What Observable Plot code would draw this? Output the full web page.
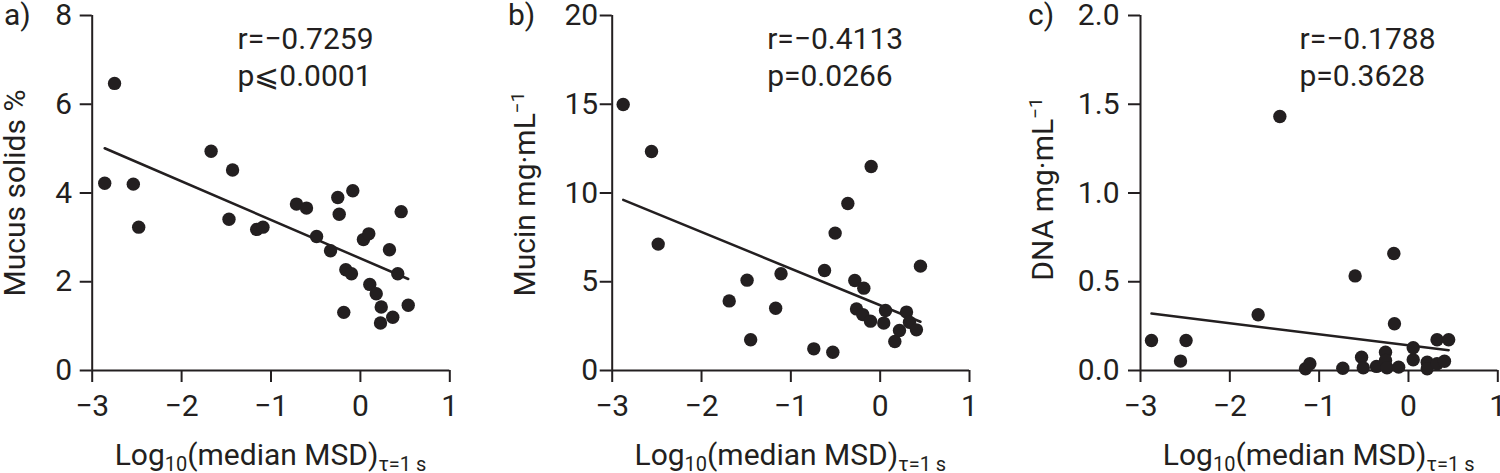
<!DOCTYPE html>
<html><head><meta charset="utf-8">
<script src="https://cdn.jsdelivr.net/npm/d3@7"></script>
<script src="https://cdn.jsdelivr.net/npm/@observablehq/plot@0.6"></script>
<style>
body{margin:0;background:#fff;}
#fig{position:relative;width:1500px;height:473px;overflow:hidden;font-family:Roboto,sans-serif;}
#fig svg{position:absolute;top:0;overflow:visible;}
</style></head><body><div id="fig"></div>
<script>
// ---- data ----
const xTickValues = [-3, -2, -1, 0, 1];
const aYTicks = [0, 2, 4, 6, 8];
const bYTicks = [0, 5, 10, 15, 20];
const cYTicks = [0, 0.5, 1.0, 1.5, 2.0];

const aX = [-2.86, -2.75, -2.54, -2.48, -1.67, -1.43, -1.47, -1.16, -1.09, -0.715, -0.603, -0.49, -0.334, -0.253, -0.237, -0.085, -0.163, -0.10, -0.186, 0.034, 0.094, 0.105, 0.177, 0.233, 0.225, 0.325, 0.362, 0.418, 0.456, 0.535];
const aY = [4.22, 6.47, 4.20, 3.23, 4.94, 4.52, 3.41, 3.18, 3.23, 3.75, 3.66, 3.02, 2.70, 3.90, 3.52, 4.05, 2.27, 2.18, 1.31, 2.95, 3.08, 1.94, 1.73, 1.43, 1.07, 2.72, 1.20, 2.18, 3.58, 1.47];

const bX = [-2.877, -2.56, -2.485, -1.69, -1.49, -1.45, -1.17, -1.11, -0.743, -0.623, -0.53, -0.504, -0.362, -0.284, -0.183, -0.265, -0.195, -0.108, -0.101, 0.04, 0.06, 0.164, 0.216, 0.295, 0.328, 0.406, 0.451];
const bY = [14.99, 12.34, 7.12, 3.92, 5.09, 1.73, 3.51, 5.45, 1.22, 5.63, 1.03, 7.74, 9.41, 5.07, 4.64, 3.47, 3.15, 2.78, 11.49, 2.67, 3.38, 1.63, 2.25, 3.29, 2.72, 2.29, 5.88];

const cX = [-2.877, -2.552, -2.49, -1.683, -1.44, -1.153, -1.104, -0.735, -0.597, -0.525, -0.506, -0.358, -0.257, -0.257, -0.24, -0.164, -0.157, -0.11, 0.053, 0.053, 0.21, 0.21, 0.32, 0.32, 0.403, 0.45];
const cY = [0.169, 0.053, 0.169, 0.314, 1.431, 0.01, 0.038, 0.013, 0.533, 0.075, 0.015, 0.023, 0.103, 0.056, 0.015, 0.659, 0.263, 0.019, 0.128, 0.06, 0.047, 0.01, 0.038, 0.173, 0.052, 0.173];

const panelLetters = ["a)", "b)", "c)"];
const yLabels = ["Mucus solids %", "Mucin mg·mL", "DNA mg·mL"];
const yLabelSups = ["", "−1", "−1"];
const rTexts = ["r=−0.7259", "r=−0.4113", "r=−0.1788"];
const pTexts = ["p⩽0.0001", "p=0.0266", "p=0.3628"];
const xLabelMain = ["Log", "(median MSD)"];
const xLabelSubs = ["10", "τ=1 s"];

// ---- layout / style ----
const ink = "#231f20";
const FS = 30;
const minusFmt = d => (d < 0 ? "−" + Math.abs(d) : String(d));
const panels = [
  {xs: aX, ys: aY, ticks: aYTicks, yMax: 8, fmt: minusFmt, left: 0, width: 490, mL: 91.7, mR: 40.7, pad: 8, ann: 237, letterX: 4, ylabX: 25, ylabCY: 193},
  {xs: bX, ys: bY, ticks: bYTicks, yMax: 20, fmt: minusFmt, left: 490, width: 500, mL: 121.7, mR: 21, pad: 2, ann: 276.7, letterX: 18, ylabX: 45, ylabCY: 194},
  {xs: cX, ys: cY, ticks: cYTicks, yMax: 2, fmt: d3.format(".1f"), left: 990, width: 510, mL: 150, mR: 2.7, pad: 9, ann: 309, letterX: 38, ylabX: 63, ylabCY: 189}
];
const H = 473, mT = 15, mB = 103;

const fig = document.getElementById("fig");
panels.forEach((p, i) => {
  const data = p.xs.map((x, k) => ({x, y: p.ys[k]}));
  const svg = Plot.plot({
    width: p.width, height: H,
    marginLeft: p.mL, marginRight: p.mR, marginTop: mT, marginBottom: mB,
    style: {fontFamily: "Roboto, sans-serif", fontSize: FS + "px", color: ink, background: "transparent", overflow: "visible"},
    x: {domain: [-3, 1]},
    y: {domain: [0, p.yMax]},
    marks: [
      Plot.axisX({ticks: xTickValues, tickSize: 12, tickPadding: 12, tickFormat: minusFmt, strokeWidth: 2, label: null}),
      Plot.axisY({ticks: p.ticks, tickSize: 12, tickPadding: p.pad, tickFormat: p.fmt, strokeWidth: 2, label: null}),
      Plot.ruleY([0], {stroke: ink, strokeWidth: 2}),
      Plot.ruleX([-3], {stroke: ink, strokeWidth: 2}),
      Plot.linearRegressionY(data, {x: "x", y: "y", stroke: ink, strokeWidth: 2.5, ci: 0}),
      Plot.dot(data, {x: "x", y: "y", r: 6.7, fill: ink, stroke: "none"}),
      Plot.text([rTexts[i]], {text: d => d, frameAnchor: "top-left", textAnchor: "start", lineAnchor: "top", dx: p.ann - p.mL, dy: 12, fill: ink, fontSize: FS}),
      Plot.text([pTexts[i]], {text: d => d, frameAnchor: "top-left", textAnchor: "start", lineAnchor: "top", dx: p.ann - p.mL, dy: 49, fill: ink, fontSize: FS})
    ]
  });
  svg.style.left = p.left + "px";
  fig.appendChild(svg);
  const s = d3.select(svg);
  // panel letter
  s.append("text").attr("x", p.letterX).attr("y", 25).attr("fill", ink)
    .attr("text-anchor", "start").attr("font-size", FS).text(panelLetters[i]);
  // y label
  const yl = s.append("text").attr("transform", `translate(${p.ylabX},${p.ylabCY}) rotate(-90)`)
    .attr("text-anchor", "middle").attr("fill", ink).attr("font-size", FS);
  yl.append("tspan").text(yLabels[i]);
  if (yLabelSups[i]) yl.append("tspan").attr("dy", -11).attr("font-size", 19).text(yLabelSups[i]);
  // x label
  const cx = p.mL + (p.width - p.mL - p.mR) / 2;
  const xl = s.append("text").attr("x", cx).attr("y", 465).attr("text-anchor", "middle")
    .attr("fill", ink).attr("font-size", FS);
  xl.append("tspan").text(xLabelMain[0]);
  xl.append("tspan").attr("dy", 6).attr("font-size", 20).text(xLabelSubs[0]);
  xl.append("tspan").attr("dy", -6).text(xLabelMain[1]);
  xl.append("tspan").attr("dy", 6).attr("font-size", 20).text(xLabelSubs[1]);
});
</script></body></html>
